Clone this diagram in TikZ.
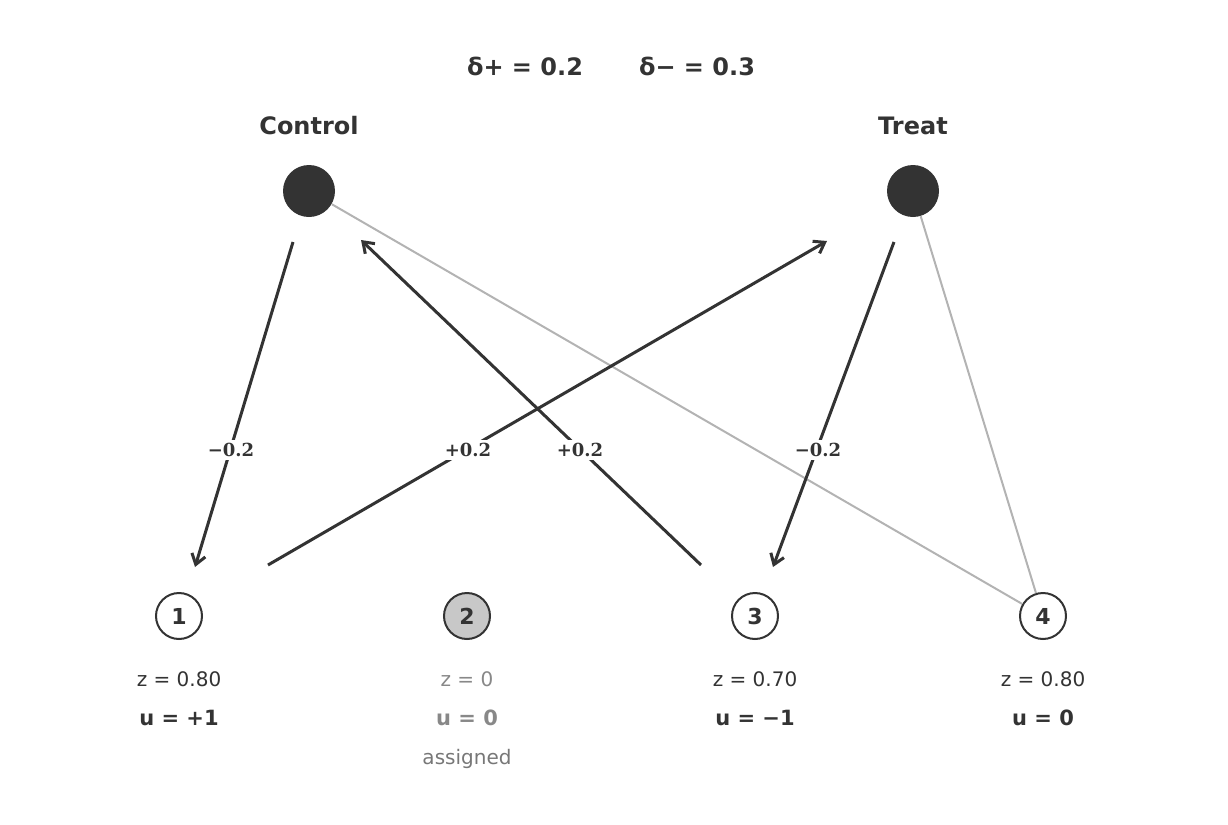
\documentclass[tikz,border=0pt]{standalone}
\usepackage{fontspec}
\setmainfont{DejaVu Sans}
\newfontfamily\labfont{DejaVu Serif}
\usetikzlibrary{arrows.meta}
\definecolor{ink}{HTML}{333333}
\definecolor{faint}{HTML}{B3B3B3}
\begin{document}
\begin{tikzpicture}[x=0.5pt,y=-0.5pt,
    arm/.style={circle,fill=ink,minimum size=26pt,inner sep=0pt},
    unit/.style={circle,draw=ink,line width=1pt,fill=white,minimum size=23pt,inner sep=0pt,font=\bfseries\fontsize{11}{13}\selectfont,text=ink},
    move/.style={-{Straight Barb[length=5pt,width=7pt]},line width=1.5pt,draw=ink},
    link/.style={draw=faint,line width=1pt},
    gain/.style={fill=white,inner sep=1.5pt,font=\labfont\bfseries\fontsize{9}{11}\selectfont,text=ink},
    info/.style={font=\fontsize{10}{12}\selectfont,text=ink}]
  \useasboundingbox (0,0) rectangle (1228,825);
  \node[font=\bfseries\fontsize{12}{14}\selectfont,text=ink] (dp) at (525,66) {δ+ = 0.2};
  \node[font=\bfseries\fontsize{12}{14}\selectfont,text=ink] (dm) at (697,66) {δ− = 0.3};

  \node[font=\bfseries\fontsize{12}{14}\selectfont,text=ink] (ctl) at (309,126) {Control};
  \node[font=\bfseries\fontsize{12}{14}\selectfont,text=ink] (trt) at (913,126) {Treat};
  \node[arm] (C) at (309,191) {};
  \node[arm] (T) at (913,191) {};

  \node[unit] (u1) at (179,616) {1};
  \node[unit,fill={rgb,255:red,200;green,200;blue,200}] (u2) at (467,616) {2};
  \node[unit] (u3) at (755,616) {3};
  \node[unit] (u4) at (1043,616) {4};

  % faint links
  \draw[link] (C) -- (u4);
  \draw[link] (T) -- (u4);

  % arrow ends
  \coordinate (a1) at (293,242); \coordinate (b1) at (195,567);
  \coordinate (a2) at (268,565); \coordinate (b2) at (827,241);
  \coordinate (a3) at (701,565); \coordinate (b3) at (361,240);
  \coordinate (a4) at (894,242); \coordinate (b4) at (773,567);
  \draw[move] (a1) -- (b1);
  \draw[move] (a2) -- (b2);
  \draw[move] (a3) -- (b3);
  \draw[move] (a4) -- (b4);
  \node[gain] (g1) at (231,450) {−0.2};
  \node[gain] (g2) at (468,450) {+0.2};
  \node[gain] (g3) at (580,450) {+0.2};
  \node[gain] (g4) at (818,450) {−0.2};

  \node[info] (z1) at (179,679) {z = 0.80};
  \node[info,text={rgb,255:red,136;green,136;blue,136}] (z2) at (467,679) {z = 0};
  \node[info] (z3) at (755,679) {z = 0.70};
  \node[info] (z4) at (1043,679) {z = 0.80};
  \node[info,font=\bfseries\fontsize{10.5}{12}\selectfont] (v1) at (179,718) {u = +1};
  \node[info,font=\bfseries\fontsize{10.5}{12}\selectfont,text={rgb,255:red,136;green,136;blue,136}] (v2) at (467,718) {u = 0};
  \node[info,font=\bfseries\fontsize{10.5}{12}\selectfont] (v3) at (755,718) {u = −1};
  \node[info,font=\bfseries\fontsize{10.5}{12}\selectfont] (v4) at (1043,718) {u = 0};
  \node[info,text={rgb,255:red,119;green,119;blue,119}] (as) at (467,759) {assigned};
\end{tikzpicture}
\end{document}
